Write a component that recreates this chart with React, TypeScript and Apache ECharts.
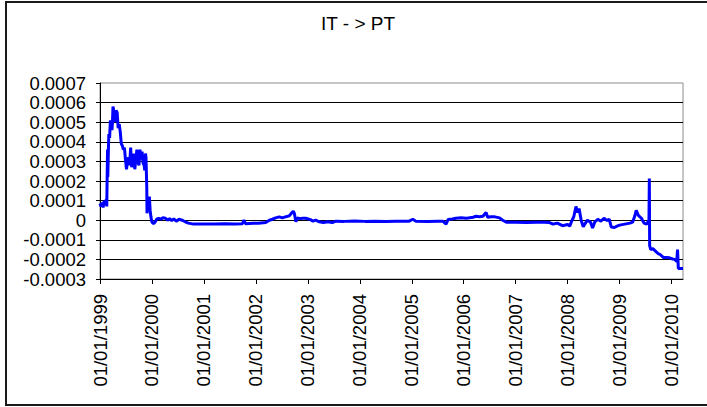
import React, { useEffect, useRef } from "react";
import * as echarts from "echarts";

const title = "IT - > PT";
const tickYears = [1999, 2000, 2001, 2002, 2003, 2004, 2005, 2006, 2007, 2008, 2009, 2010];

// x: decimal year, y: value
const years = [
  1999.0, 1999.02, 1999.04, 1999.06, 1999.08, 1999.1, 1999.12, 1999.13, 1999.145, 1999.15,
  1999.16, 1999.17, 1999.185, 1999.2, 1999.215, 1999.23, 1999.24, 1999.25, 1999.265, 1999.28,
  1999.29, 1999.3, 1999.31, 1999.33, 1999.35, 1999.37, 1999.39, 1999.41, 1999.43, 1999.45,
  1999.47, 1999.49, 1999.51, 1999.53, 1999.55, 1999.57, 1999.59, 1999.61, 1999.63, 1999.65,
  1999.67, 1999.69, 1999.71, 1999.73, 1999.75, 1999.77, 1999.79, 1999.81, 1999.83, 1999.85,
  1999.86, 1999.875, 1999.885, 1999.9, 1999.905, 1999.92, 1999.935, 1999.95, 1999.965, 1999.98,
  2000.0, 2000.03, 2000.06, 2000.09, 2000.13, 2000.17, 2000.21, 2000.26, 2000.3, 2000.34,
  2000.38, 2000.42, 2000.47, 2000.52, 2000.58, 2000.64, 2000.7, 2000.8, 2000.9, 2001.0,
  2001.2, 2001.4, 2001.6, 2001.74, 2001.77, 2001.8, 2001.95, 2002.05, 2002.19, 2002.26,
  2002.32, 2002.38, 2002.45, 2002.51, 2002.58, 2002.64, 2002.7, 2002.72, 2002.74, 2002.77,
  2002.8, 2002.85, 2002.9, 2002.96, 2003.05, 2003.1, 2003.15, 2003.22, 2003.3, 2003.38,
  2003.47, 2003.54, 2003.7, 2003.9, 2004.1, 2004.3, 2004.5, 2004.7, 2004.95, 2005.02,
  2005.08, 2005.3, 2005.5, 2005.6, 2005.66, 2005.7, 2005.78, 2005.85, 2005.95, 2006.05,
  2006.11, 2006.18, 2006.24, 2006.3, 2006.37, 2006.43, 2006.46, 2006.52, 2006.6, 2006.69,
  2006.75, 2006.82, 2007.0, 2007.2, 2007.4, 2007.55, 2007.65, 2007.72, 2007.8, 2007.9,
  2008.0, 2008.04, 2008.07, 2008.12, 2008.16, 2008.19, 2008.22, 2008.26, 2008.3, 2008.33,
  2008.38, 2008.44, 2008.48, 2008.52, 2008.58, 2008.64, 2008.7, 2008.76, 2008.8, 2008.84,
  2008.9, 2008.95, 2009.0, 2009.1, 2009.2, 2009.25, 2009.29, 2009.32, 2009.36, 2009.42,
  2009.47, 2009.52, 2009.565, 2009.572, 2009.578, 2009.6, 2009.64, 2009.7, 2009.74, 2009.78,
  2009.84, 2009.9, 2009.96, 2010.02, 2010.06, 2010.1, 2010.115, 2010.13, 2010.22,
];

const values = [
  0.000085, 0.00007, 0.00009, 0.000065, 0.0001, 0.00008, 0.000105, 0.00007, 0.00036, 0.00022,
  0.00034, 0.00044, 0.00042, 0.00051, 0.00049, 0.00046, 0.0005, 0.00058, 0.00056, 0.00053,
  0.00056, 0.0005, 0.00056, 0.00055, 0.00047, 0.00049, 0.00045, 0.00039, 0.00038, 0.00036,
  0.00037, 0.00031, 0.00026, 0.0003, 0.00032, 0.00028, 0.00037, 0.00027, 0.00031, 0.00034,
  0.00026, 0.00031, 0.00036, 0.0003, 0.00028, 0.00036, 0.00031, 0.00035, 0.00029, 0.00028,
  0.000255, 0.00034, 0.00032, 0.00017, 0.000035, 0.00012, 0.00005, 0.00012, 0.00005, 0.000017,
  -0.00001, -0.000017, -0.00001, 0.000005, 0.00001, 0.000005, 0.000012, 0.00001, 0.0, 0.000008,
  -0.000002, 0.000006, -0.000005, 0.000005, 0.0, -0.000008, -0.000015, -0.00002, -0.00002, -0.00002,
  -0.00002, -0.000018, -0.00002, -0.000018, 0.0, -0.000018, -0.000015, -0.000015, -0.000012, 0.0,
  0.000005, 0.000012, 0.000017, 0.000012, 0.000018, 0.000022, 0.00004, 0.000046, 0.000035, -0.000008,
  0.000012, 0.000008, 0.00001, 0.00001, 0.000003, -0.000005, 0.0, -0.000008, -0.000012, -0.000008,
  -0.000012, -0.000005, -0.000006, -0.000004, -0.000006, -0.000005, -0.000006, -0.000005, -0.000005, 0.000005,
  -0.000005, -0.000006, -0.000005, -0.000005, -0.00002, 0.000004, 0.000006, 0.00001, 0.000012, 0.00001,
  0.000012, 0.000015, 0.00002, 0.000018, 0.00002, 0.00004, 0.000015, 0.000018, 0.000017, 0.000012,
  0.0, -0.00001, -0.00001, -0.000012, -0.00001, -0.00001, -0.000012, -0.00002, -0.000015, -0.000028,
  -0.000022, -0.00003, -0.00001, 0.00002, 0.00007, 0.00004, 0.00006, 0.0, -0.000034, -0.00002,
  0.0, -0.00001, -0.00004, -0.00001, 0.000005, -0.000005, 0.00001, -0.000002, 0.000005, -0.000035,
  -0.000037, -0.00003, -0.000025, -0.00002, -0.000015, -0.00001, 0.00002, 0.00005, 0.000025, 0.00001,
  -0.000015, -0.00002, 0.0, 0.000213, -0.00013, -0.00015, -0.000145, -0.00016, -0.00017, -0.000175,
  -0.00019, -0.00019, -0.000192, -0.000198, -0.0002, -0.00021, -0.00015, -0.000246, -0.000246,
];

const yMin = -0.0003;
const yMax = 0.0007;
const yStep = 0.0001;
const xMin = 1999;
const xMax = 2010.22;

export default function App() {
  const ref = useRef<HTMLDivElement>(null);
  useEffect(() => {
    if (!ref.current) return;
    const chart = echarts.init(ref.current, null, { renderer: "svg" });
    const font = "'Liberation Sans', Arial, sans-serif";
    chart.setOption({
      animation: false,
      backgroundColor: "#ffffff",
      grid: {
        left: 100,
        right: 24,
        top: 83,
        bottom: 128,
        containLabel: false,
        outerBoundsMode: "none",
        show: true,
        borderColor: "#8c8c8c",
        borderWidth: 1,
      },
      graphic: [
        {
          type: "rect",
          shape: { x: 6, y: 2, width: 720, height: 403 },
          style: { fill: "none", stroke: "#1a1a1a", lineWidth: 2 },
          silent: true,
        },
        {
          type: "text",
          x: 358,
          y: 23,
          style: {
            text: title,
            fontFamily: font,
            fontSize: 19,
            fill: "#000",
            textAlign: "center",
            textVerticalAlign: "middle",
          },
        },
      ],
      xAxis: {
        type: "value",
        min: xMin,
        max: xMax,
        interval: 1,
        axisLine: { show: true, onZero: false, lineStyle: { color: "#000", width: 1 } },
        axisTick: {
          show: true,
          length: 5,
          inside: false,
          customValues: tickYears,
          lineStyle: { color: "#000" },
        },
        splitLine: { show: false },
        axisLabel: {
          rotate: 90,
          margin: 15,
          fontFamily: font,
          fontSize: 18.5,
          color: "#000",
          customValues: tickYears,
          formatter: (v: number) => `01/01/${Math.round(v)}`,
        },
      },
      yAxis: {
        type: "value",
        min: yMin,
        max: yMax,
        interval: yStep,
        axisLine: { show: true, lineStyle: { color: "#000", width: 1 } },
        axisTick: { show: true, length: 4, lineStyle: { color: "#000" } },
        splitLine: { show: true, showMaxLine: false, lineStyle: { color: "#000", width: 1 } },
        axisLabel: {
          margin: 14,
          fontFamily: font,
          fontSize: 18.5,
          color: "#000",
          formatter: (v: number) => {
            const r = Math.round(v * 1e4);
            return r === 0 ? "0" : (r / 1e4).toFixed(4);
          },
        },
      },
      series: [
        {
          type: "line",
          data: years.map((y, i) => [y, values[i]]),
          showSymbol: false,
          symbol: "none",
          lineStyle: { color: "#0000ff", width: 3 },
          itemStyle: { color: "#0000ff" },
        },
      ],
    });
    return () => chart.dispose();
  }, []);
  return (
    <div
      ref={ref}
      style={{ position: "absolute", left: 0, top: 0, width: 707, height: 407 }}
    />
  );
}
